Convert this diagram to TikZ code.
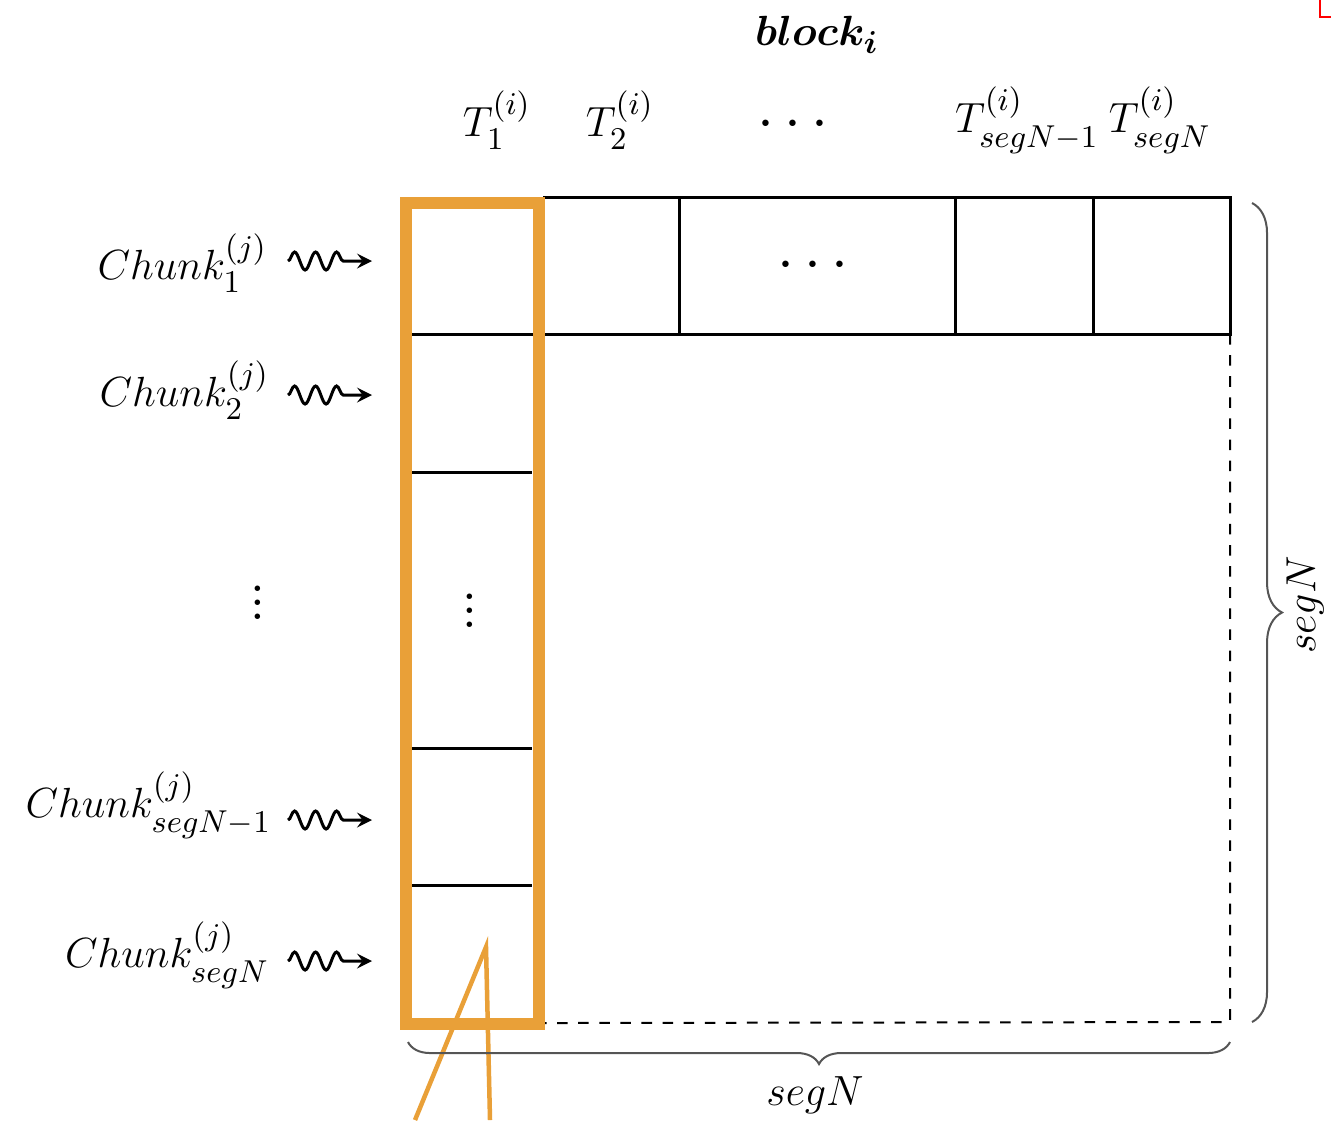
\documentclass[tikz,border=0pt]{standalone}
\usepackage{amsmath,amssymb,bm}
\usepackage{tikz}
\usetikzlibrary{calc}
\usetikzlibrary{positioning}
\usetikzlibrary{decorations.pathmorphing,decorations.pathreplacing}

\definecolor{hlorange}{HTML}{E9A038}
\definecolor{bracegray}{HTML}{555555}

\begin{document}
\begin{tikzpicture}[x=0.01cm,y=-0.01cm,
  cell/.style={line width=0.03cm},
  wave/.style={-stealth,line width=0.03cm,decorate,
    decoration={snake,amplitude=0.9mm,segment length=2.1mm,post length=2.2mm}},
  lbl/.style={font=\fontsize{13}{16}\selectfont,inner sep=0pt},
  bigdots/.style={font=\fontsize{19}{22}\selectfont,inner sep=0pt},
  brc/.style={bracegray,line width=0.02cm,decorate,decoration={brace,amplitude=#1}}]
\useasboundingbox (0,0) rectangle (1331,1120);

    % Define the corners of the matrix
    \coordinate (tl) at (411,197);
    \coordinate (tr) at (1230,197);
    \coordinate (br) at (1230,1022);
    \coordinate (bl) at (411,1022);

    % top row of tiles
    \draw[cell] (543,197) -- (tr) -- (1230,334) -- (411,334);
    \foreach \x in {679,955,1093} {
    \draw[cell] (\x,197) -- (\x,334);
    }
    % rows of the first column
    \foreach \y in {472,748,885} {
    \draw[cell] (411,\y) -- (532,\y);
    }
    \draw[dashed,line width=0.02cm] (1230,334) -- (br) -- (545,1023);

    % highlighted column and its callout
    \draw[hlorange,line width=0.12cm] (405.5,202.5) rectangle (538.5,1023.5);
    \coordinate (tip) at (486,947);
    \coordinate (cl) at (415,1120);
    \coordinate (cr) at (490,1120);
    \draw[hlorange,line width=0.045cm] (cl) -- (tip) -- (cr);

    % dots inside
    \node[bigdots] (hdots) at (818,266) {$\cdots$};
    \node[bigdots] (vdots) at (470,600) {$\vdots$};

    % column headers
    \node[lbl] (block) at (817,35) {$\boldsymbol{block}_{\boldsymbol{i}}$};
    \node[lbl] (t1) at (497,120) {$T_1^{(i)}$};
    \node[lbl] (t2) at (620,120) {$T_2^{(i)}$};
    \node[bigdots] (tdots) at (798,125) {$\cdots$};
    \node[lbl] (tn1) at (1027,120) {$T_{segN-1}^{(i)}$};
    \node[lbl] (tn) at (1160,120) {$T_{segN}^{(i)}$};

    % chunk labels with wavy arrows
    \node[lbl,anchor=east] (c1) at (268,263) {$Chunk_1^{(j)}$};
    \node[lbl,anchor=east] (c2) at (270,390) {$Chunk_2^{(j)}$};
    \node[bigdots] (cdots) at (258,592) {$\vdots$};
    \node[lbl,anchor=east] (cn1) at (272,805) {$Chunk_{segN-1}^{(j)}$};
    \node[lbl,anchor=east] (cn) at (270,955) {$Chunk_{segN}^{(j)}$};
    \foreach \n/\y in {1/261,2/395,3/820,4/961} {
    \coordinate (ws\n) at (288,\y);
    \coordinate (we\n) at (372,\y);
    \draw[wave] (ws\n) -- (we\n);
    }

    % braces
    \draw[brc=3mm] (1252,203) -- (1252,1022);
    \node[lbl,rotate=90] (segr) at (1305,605) {$segN$};
    \draw[brc=2.2mm] (1230,1042) -- (408,1042);
    \node[lbl] (segb) at (815,1095) {$segN$};

    \draw[red,line width=0.02cm] (1320,0) -- (1320,17) -- (1331,17);

\end{tikzpicture}
\end{document}
